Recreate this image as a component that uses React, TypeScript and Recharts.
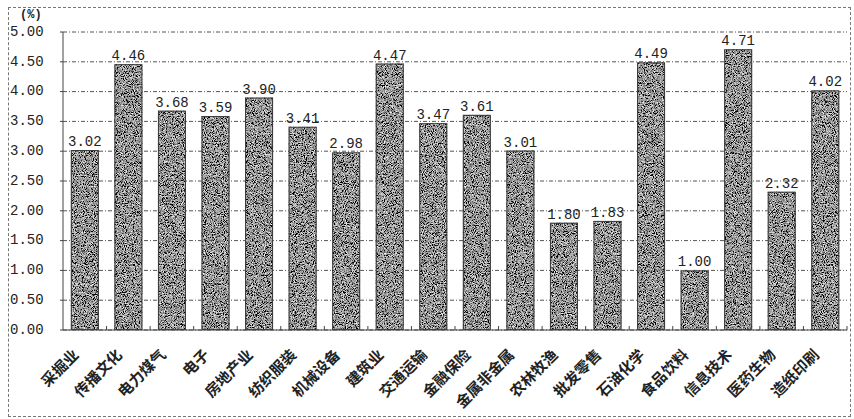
import React from 'react';
import { BarChart, Bar, XAxis, YAxis, CartesianGrid, LabelList } from 'recharts';

const categories = [
  '采掘业', '传播文化', '电力煤气', '电子', '房地产业', '纺织服装', '机械设备', '建筑业', '交通运输',
  '金融保险', '金属非金属', '农林牧渔', '批发零售', '石油化学', '食品饮料', '信息技术', '医药生物', '造纸印刷',
];
const values = [3.02, 4.46, 3.68, 3.59, 3.9, 3.41, 2.98, 4.47, 3.47, 3.61, 3.01, 1.8, 1.83, 4.49, 1.0, 4.71, 2.32, 4.02];
const yTicks = [0, 0.5, 1, 1.5, 2, 2.5, 3, 3.5, 4, 4.5, 5];

const data = categories.map((name, i) => ({ name, value: values[i] }));

const W = 854;
const H = 419;
const PLOT_LEFT = 63;
const PLOT_RIGHT = 847;
const PLOT_BOTTOM = 330;
const BAND = (PLOT_RIGHT - PLOT_LEFT) / categories.length;
const mono = '"Liberation Mono", "DejaVu Sans Mono", monospace';
const cjk = '"Noto Sans CJK SC", sans-serif';

function GrainBar(props: any) {
  const { x, y, width, height } = props;
  if (!height || height <= 0) return null;
  return (
    <g>
      <rect x={x} y={y} width={width} height={height} fill="#777" filter="url(#grain)" />
      <rect x={x + 0.5} y={y + 0.5} width={width - 1} height={height - 1} fill="none" stroke="#3a3a3a" strokeWidth={1} />
    </g>
  );
}

function XTick(props: any) {
  const { x, payload } = props;
  const ax = x - 8;
  const ay = PLOT_BOTTOM + 23;
  return (
    <g>
      <line x1={x + BAND / 2} y1={PLOT_BOTTOM} x2={x + BAND / 2} y2={PLOT_BOTTOM - 4} stroke="#444" />
      <text
        x={ax}
        y={ay}
        transform={`rotate(-45, ${ax}, ${ay})`}
        textAnchor="end"
        dominantBaseline="middle"
        fontFamily={cjk}
        fontWeight={700}
        fontSize={15}
        fill="#222"
      >
        {payload.value}
      </text>
    </g>
  );
}

function YTick(props: any) {
  const { y, payload } = props;
  return (
    <text x={10} y={y} dominantBaseline="middle" fontFamily={mono} fontSize={14} fill="#222">
      {Number(payload.value).toFixed(2)}
    </text>
  );
}

export default function App() {
  return (
    <div style={{ position: 'absolute', left: 0, top: 0, width: W, height: H, background: '#fff' }}>
      <div
        style={{
          position: 'absolute',
          left: 8,
          top: 7,
          width: 841,
          height: 408,
          border: '1px dashed #777',
        }}
      />
      <div
        style={{
          position: 'absolute',
          left: 20,
          top: 8,
          fontFamily: mono,
          fontSize: 12,
          fontWeight: 700,
          color: '#222',
        }}
      >
        (%)
      </div>
      <BarChart
        width={W}
        height={H}
        data={data}
        margin={{ top: 32, right: W - PLOT_RIGHT, left: 8, bottom: H - PLOT_BOTTOM - 80 }}
        barCategoryGap="18%"
        style={{ position: 'absolute', left: 0, top: 0 }}
      >
        <defs>
          <filter id="grain" x="0" y="0" width="100%" height="100%">
            <feTurbulence type="fractalNoise" baseFrequency="1.1" numOctaves={2} seed={4} result="noise" />
            <feColorMatrix in="noise" type="saturate" values="0" result="gray" />
            <feComponentTransfer in="gray" result="contrast">
              <feFuncR type="linear" slope={2.8} intercept={-1.1} />
              <feFuncG type="linear" slope={2.8} intercept={-1.1} />
              <feFuncB type="linear" slope={2.8} intercept={-1.1} />
              <feFuncA type="linear" slope={0} intercept={1} />
            </feComponentTransfer>
            <feComposite in="contrast" in2="SourceGraphic" operator="in" />
          </filter>
        </defs>
        <CartesianGrid vertical={false} stroke="#555" strokeDasharray="4 2 1 2" />
        <XAxis
          dataKey="name"
          interval={0}
          height={80}
          tickLine={false}
          axisLine={{ stroke: '#444' }}
          tick={<XTick />}
        />
        <YAxis
          domain={[0, 5]}
          ticks={yTicks}
          width={55}
          interval={0}
          axisLine={{ stroke: '#444' }}
          tickLine={{ stroke: '#444' }}
          tickSize={3}
          tick={<YTick />}
        />
        <Bar dataKey="value" isAnimationActive={false} shape={<GrainBar />}>
          <LabelList
            dataKey="value"
            position="top"
            offset={4}
            formatter={(v: any) => Number(v).toFixed(2)}
            style={{ fontFamily: mono, fontSize: 14, fill: '#222' }}
          />
        </Bar>
      </BarChart>
    </div>
  );
}
